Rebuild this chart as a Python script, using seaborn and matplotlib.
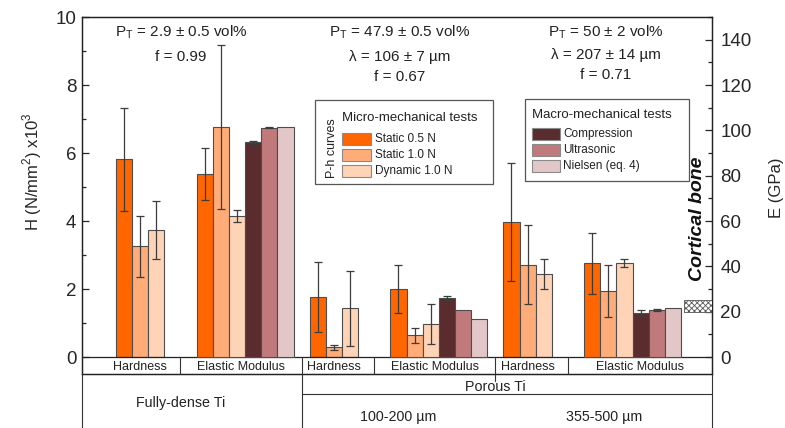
import numpy as np
import pandas as pd
import matplotlib
matplotlib.use("Agg")
import matplotlib.pyplot as plt
import matplotlib.transforms as mtransforms
from matplotlib.patches import Rectangle
from matplotlib.lines import Line2D
from matplotlib.ticker import MultipleLocator
import seaborn as sns

# ---------------- data ----------------
materials = ["Fully-dense Ti", "Porous Ti 100-200 µm", "Porous Ti 355-500 µm"]
micro_tests = ["Static 0.5 N", "Static 1.0 N", "Dynamic 1.0 N"]
macro_tests = ["Compression", "Ultrasonic", "Nielsen (eq. 4)"]

# Hardness (N/mm2 x10^3), micro-mechanical tests only
hardness = [[5.81, 3.26, 3.73],
            [1.77, 0.28, 1.43],
            [3.97, 2.71, 2.43]]
hardness_err = [[1.52, 0.90, 0.85],
                [1.03, 0.06, 1.10],
                [1.73, 1.16, 0.44]]

# Elastic modulus (GPa): micro tests then macro tests
modulus = [[80.6, 101.5, 62.2, 94.7, 101.2, 101.5],
           [29.9, 9.5, 14.5, 26.0, 20.8, 16.7],
           [41.3, 29.2, 41.5, 19.4, 20.8, 21.7]]
modulus_err = [[11.5, 36.0, 2.7, 0.8, 0.3, np.nan],
               [10.7, 3.3, 8.7, 0.7, np.nan, np.nan],
               [13.4, 11.5, 1.8, 1.2, 0.5, np.nan]]

cortical_bone_E = (20, 25)

annotations = [["P$_\\mathregular{T}$ = 2.9 ± 0.5 vol%", "f = 0.99"],
               ["P$_\\mathregular{T}$ = 47.9 ± 0.5 vol%", "λ = 106 ± 7 µm", "f = 0.67"],
               ["P$_\\mathregular{T}$ = 50 ± 2 vol%", "λ = 207 ± 14 µm", "f = 0.71"]]

row1_labels = ["Hardness", "Elastic Modulus"]

# ---------------- style ----------------
sns.set_style("ticks")
plt.rcParams["font.family"] = ["Liberation Sans", "DejaVu Sans"]
plt.rcParams["mathtext.fontset"] = "custom"
plt.rcParams["mathtext.rm"] = "Liberation Sans"
plt.rcParams["hatch.linewidth"] = 0.6

colors = {"Static 0.5 N": "#FF6600", "Static 1.0 N": "#FFAC78", "Dynamic 1.0 N": "#FFD3B6",
          "Compression": "#5A2C2E", "Ultrasonic": "#C07A7B", "Nielsen (eq. 4)": "#E3C7C8"}
all_tests = micro_tests + macro_tests

# layout (slot units)
BLOCK = 12
H_OFF = [0, 1, 2]
E_OFF = [5, 6, 7, 8, 9, 10]
XMIN, XMAX = -2.6, 36.42

rows_h, rows_e = [], []
for b, mat in enumerate(materials):
    for i, t in enumerate(micro_tests):
        rows_h.append(dict(material=mat, test=t, pos=b * BLOCK + H_OFF[i],
                           value=hardness[b][i], err=hardness_err[b][i]))
    for i, t in enumerate(all_tests):
        rows_e.append(dict(material=mat, test=t, pos=b * BLOCK + E_OFF[i],
                           value=modulus[b][i], err=modulus_err[b][i]))
dfH = pd.DataFrame(rows_h)
dfE = pd.DataFrame(rows_e)

W, H = 785, 428
fig = plt.figure(figsize=(W / 100, H / 100), dpi=100)
ax_left, ax_right, ax_top, ax_bot = 82, 712, 17, 374
ax = fig.add_axes([ax_left / W, (H - ax_bot) / H, (ax_right - ax_left) / W, (ax_bot - ax_top) / H])
ax2 = ax.twinx()

def fx(px):
    return px / W

def fy(py):
    return 1 - py / H

edge = "#4d4d4d"
sns.barplot(data=dfH, x="pos", y="value", hue="test", hue_order=micro_tests, palette=colors,
            native_scale=True, dodge=False, width=1.0, orient="x", errorbar=None, saturation=1,
            edgecolor=edge, linewidth=0.8, legend=False, ax=ax)
sns.barplot(data=dfE, x="pos", y="value", hue="test", hue_order=all_tests, palette=colors,
            native_scale=True, dodge=False, width=1.0, orient="x", errorbar=None, saturation=1,
            edgecolor=edge, linewidth=0.8, legend=False, ax=ax2)

ebc = "#3c3c3c"
ax.errorbar(dfH["pos"], dfH["value"], yerr=dfH["err"], fmt="none", ecolor=ebc,
            elinewidth=0.9, capsize=3, capthick=0.9, zorder=5)
mE = dfE["err"].notna()
ax2.errorbar(dfE.loc[mE, "pos"], dfE.loc[mE, "value"], yerr=dfE.loc[mE, "err"], fmt="none",
             ecolor=ebc, elinewidth=0.9, capsize=3, capthick=0.9, zorder=5)

# cortical bone band
ax2.fill_between([XMAX - 1.72, XMAX], cortical_bone_E[0], cortical_bone_E[1],
                 facecolor="white", edgecolor="#555555", hatch="xxxxxx", linewidth=0.6, zorder=3)

# axes settings
ax.set_xlim(XMIN, XMAX)
ax.set_xticks([])
ax2.set_xticks([])
ax.set_xlabel("")
ax2.set_xlabel("")
ax.set_ylabel("")
ax2.set_ylabel("")
ax.yaxis.set_major_locator(MultipleLocator(2))
ax.yaxis.set_minor_locator(MultipleLocator(1))
ax2.yaxis.set_major_locator(MultipleLocator(20))
ax2.yaxis.set_minor_locator(MultipleLocator(10))
ax.tick_params(axis="y", which="major", direction="in", length=5, width=0.9, labelsize=13.5,
               pad=4, left=True, right=False)
ax.tick_params(axis="y", which="minor", direction="in", length=3, width=0.9, left=True, right=False)
ax2.tick_params(axis="y", which="major", direction="in", length=5, width=0.9, labelsize=13.5,
                pad=6, right=True, left=False)
ax2.tick_params(axis="y", which="minor", direction="in", length=3, width=0.9, right=True, left=False)
ax2.set_yticks([0, 20, 40, 60, 80, 100, 120, 140])
ax2.set_ylim(-7.5, 150)
ax.set_ylim(-0.5, 10)
ax.set_xlim(XMIN, XMAX)
for a in (ax, ax2):
    for s in a.spines.values():
        s.set_linewidth(0.9)
        s.set_color("#222222")
ax.axhline(0, color="#222222", lw=0.9, zorder=6)

fig.text(fx(32), fy(172), "H (N/mm$^\\mathregular{2}$) x10$^\\mathregular{3}$", rotation=90,
         ha="center", va="center", fontsize=12)
fig.text(fx(777), fy(188), "E (GPa)", rotation=90, ha="center", va="center", fontsize=12)

# annotations above groups
ann_x = [181, 400, 606]
ann_y = [[32, 57], [32, 57, 77], [32, 55, 75]]
for b in range(3):
    for line, yy in zip(annotations[b], ann_y[b]):
        fig.text(fx(ann_x[b]), fy(yy), line, ha="center", va="center", fontsize=11, color="#222222")

fig.text(fx(697), fy(219), "Cortical bone", rotation=90, ha="center", va="center",
         fontsize=14, fontweight="bold", fontstyle="italic", color="#111111")

# ---------------- table below ----------------
bt = mtransforms.blended_transform_factory(ax.transData, fig.transFigure)
lc = "#333333"

def vline(xd, y0px, y1px):
    fig.add_artist(Line2D([xd, xd], [fy(y0px), fy(y1px)], transform=bt, color=lc, lw=0.8))

def hline(x0d, x1d, ypx):
    fig.add_artist(Line2D([x0d, x1d], [fy(ypx), fy(ypx)], transform=bt, color=lc, lw=0.8))

for b in range(3):
    vline(b * BLOCK + 3.5, 358, 374)
vline(XMIN, 374, 428)
vline(XMAX, 374, 428)
vline(11, 358, 428)
vline(23, 358, 381)
hline(11, XMAX, 394)

for b in range(3):
    hx = b * BLOCK + 1
    right = b * BLOCK + 11 if b < 2 else XMAX
    ex = (b * BLOCK + 3.5 + right) / 2
    fig.text(hx, fy(367), row1_labels[0], transform=bt, ha="center", va="center",
             fontsize=9, color="#222222")
    fig.text(ex, fy(367), row1_labels[1], transform=bt, ha="center", va="center",
             fontsize=9, color="#222222")

fig.text(3.5, fy(403), "Fully-dense Ti", transform=bt, ha="center", va="center", fontsize=10.3, color="#222222")
fig.text(23, fy(387), "Porous Ti", transform=bt, ha="center", va="center", fontsize=10.3, color="#222222")
fig.text(17, fy(417), "100-200 µm", transform=bt, ha="center", va="center", fontsize=10.3, color="#222222")
fig.text((23 + XMAX) / 2, fy(417), "355-500 µm", transform=bt, ha="center", va="center", fontsize=10.3, color="#222222")

# ---------------- legends ----------------
def legend_box(x0, y0, x1, y1, title, tx, ty, entries, sx0, sx1, ys, txt_x):
    fig.add_artist(Rectangle((fx(x0), fy(y1)), fx(x1 - x0), (y1 - y0) / H, transform=fig.transFigure,
                             facecolor="white", edgecolor="#555555", lw=0.9, zorder=10))
    fig.text(fx(tx), fy(ty), title, ha="left", va="center", fontsize=9.5, color="#222222", zorder=11)
    for name, yc in zip(entries, ys):
        fig.add_artist(Rectangle((fx(sx0), fy(yc + 6)), fx(sx1 - sx0), 12 / H, transform=fig.transFigure,
                                 facecolor=colors[name], edgecolor="#8a8a8a", lw=0.8, zorder=11))
        fig.text(fx(txt_x), fy(yc), name, ha="left", va="center", fontsize=8.5, color="#222222", zorder=12)

legend_box(315, 100, 493, 184, "Micro-mechanical tests", 342, 118, micro_tests,
           342, 371, [139, 155, 171], 375)
fig.text(fx(332), fy(148), "P-h curves", rotation=90, ha="center", va="center", fontsize=9,
         color="#222222", zorder=12)
legend_box(525, 99, 689, 181, "Macro-mechanical tests", 532, 115, macro_tests,
           532, 560, [134, 150, 166], 563)

fig.savefig("out.png", dpi=100)
